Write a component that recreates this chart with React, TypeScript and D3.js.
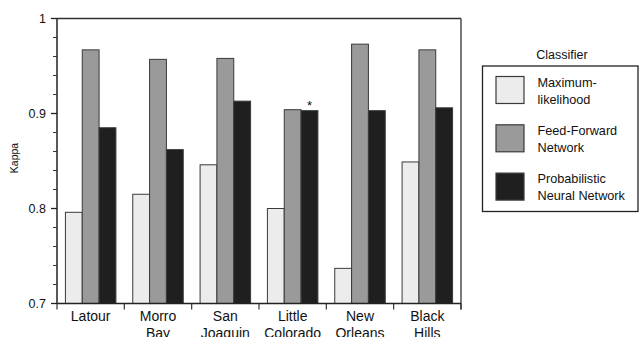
import React from 'react';
import * as d3 from 'd3';

// --- data ---
const categories = ['Latour', 'Morro Bay', 'San Joaquin', 'Little Colorado', 'New Orleans', 'Black Hills'];
const categoryLines = [['Latour'], ['Morro', 'Bay'], ['San', 'Joaquin'], ['Little', 'Colorado'], ['New', 'Orleans'], ['Black', 'Hills']];
const seriesNames = ['Maximum-likelihood', 'Feed-Forward Network', 'Probabilistic Neural Network'];
const legendLines = [['Maximum-', 'likelihood'], ['Feed-Forward', 'Network'], ['Probabilistic', 'Neural Network']];
const maxLikelihood = [0.796, 0.815, 0.846, 0.8, 0.737, 0.849];
const feedForward = [0.967, 0.957, 0.958, 0.904, 0.973, 0.967];
const probabilistic = [0.885, 0.862, 0.913, 0.903, 0.903, 0.906];
const majorTicks = [0.7, 0.8, 0.9, 1];
const minorTicks = [0.72, 0.74, 0.76, 0.78, 0.82, 0.84, 0.86, 0.88, 0.92, 0.94, 0.96, 0.98];
const starred = { category: 'Little Colorado', series: 2 };

const FILLS = ['#ececec', '#9a9a9a', '#1f1f1f'];
const STROKE = '#3a3a3a';
const FONT = '"Liberation Sans", Arial, Helvetica, sans-serif';

const W = 642, H = 337;
const plot = { left: 57, right: 461, top: 18.5, bottom: 303.5 };

const App = () => {
  const values = [maxLikelihood, feedForward, probabilistic];

  const x = d3.scaleBand().domain(categories).range([plot.left, plot.right]).padding(0);
  const xs = d3.scaleBand().domain(seriesNames).range([0, x.bandwidth()]).paddingInner(0).paddingOuter(0.5);
  const y = d3.scaleLinear().domain([0.7, 1]).range([plot.bottom, plot.top]);

  const bounds = categories.map(c => x(c)).concat([plot.right]);

  return (
    <svg width={W} height={H} style={{ position: 'absolute', left: 0, top: 0, background: '#fff' }} fontFamily={FONT}>
      {/* bars */}
      {categories.map((c, i) => (
        <g key={c} transform={`translate(${x(c)},0)`}>
          {seriesNames.map((s, j) => (
            <rect
              key={s}
              x={xs(s)}
              y={y(values[j][i])}
              width={xs.bandwidth()}
              height={plot.bottom - y(values[j][i])}
              fill={FILLS[j]}
              stroke={STROKE}
              strokeWidth={1}
            />
          ))}
        </g>
      ))}

      {/* asterisk */}
      <text
        x={x(starred.category) + xs(seriesNames[starred.series]) + xs.bandwidth() / 2}
        y={y(values[starred.series][categories.indexOf(starred.category)]) - 1}
        textAnchor="middle"
        fontSize={13}
        fill="#111"
      >*</text>

      {/* frame */}
      <line x1={plot.left} x2={plot.right} y1={plot.top} y2={plot.top} stroke="#333" strokeWidth={1.3} />
      <line x1={plot.right} x2={plot.right} y1={plot.top} y2={plot.bottom + 6} stroke="#333" strokeWidth={1.3} />
      <line x1={plot.left} x2={plot.left} y1={plot.top} y2={plot.bottom} stroke="#222" strokeWidth={1.5} />
      <line x1={plot.left} x2={plot.right} y1={plot.bottom} y2={plot.bottom} stroke="#222" strokeWidth={1.5} />

      {/* y ticks */}
      {minorTicks.map(t => (
        <line key={t} x1={plot.left - 4} x2={plot.left} y1={y(t)} y2={y(t)} stroke="#333" strokeWidth={1} />
      ))}
      {majorTicks.map(t => (
        <g key={t} transform={`translate(0,${y(t)})`}>
          <line x1={plot.left - 6} x2={plot.left} stroke="#222" strokeWidth={1.3} />
          <text x={plot.left - 11} dy="0.35em" textAnchor="end" fontSize={12.5} fill="#111">{d3.format('~g')(t)}</text>
        </g>
      ))}
      <text transform="translate(17.5,158) rotate(-90)" textAnchor="middle" fontSize={10.5} fill="#111">Kappa</text>

      {/* x ticks and labels */}
      {bounds.map((b, i) => (
        <line key={i} x1={b} x2={b} y1={plot.bottom} y2={plot.bottom + 6} stroke="#333" strokeWidth={1.2} />
      ))}
      {categories.map((c, i) => (
        <text key={c} x={x(c) + x.bandwidth() / 2} y={plot.bottom + 17} textAnchor="middle" fontSize={14} fill="#111">
          {categoryLines[i].map((l, k) => (
            <tspan key={k} x={x(c) + x.bandwidth() / 2} dy={k === 0 ? 0 : 17.5}>{l}</tspan>
          ))}
        </text>
      ))}

      {/* legend */}
      <text x={562} y={58.5} textAnchor="middle" fontSize={12.5} fill="#111">Classifier</text>
      <rect x={482.5} y={66} width={155.5} height={145.5} fill="none" stroke="#222" strokeWidth={1.3} />
      {seriesNames.map((s, j) => (
        <g key={s} transform={`translate(0,${76.5 + j * 48.3})`}>
          <rect x={496} y={0} width={28} height={27} fill={FILLS[j]} stroke={STROKE} strokeWidth={1.2} />
          <text x={537.5} y={10} fontSize={12.7} fill="#111">
            {legendLines[j].map((l, k) => (
              <tspan key={k} x={537.5} dy={k === 0 ? 0 : 17}>{l}</tspan>
            ))}
          </text>
        </g>
      ))}
    </svg>
  );
};

export default App;
